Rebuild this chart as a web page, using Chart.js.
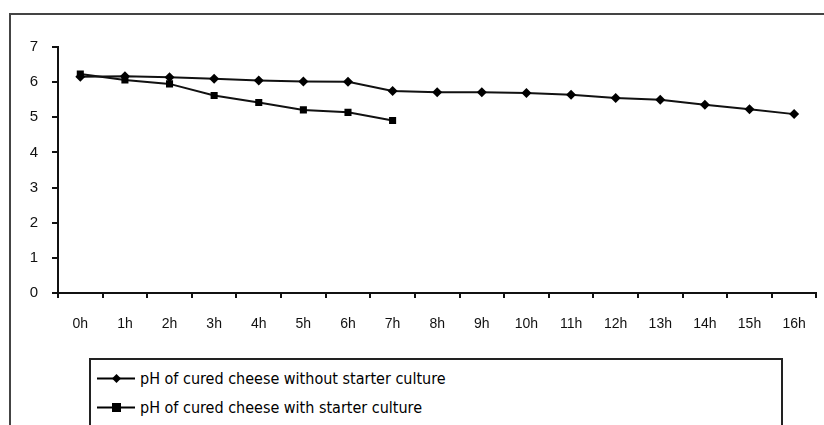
<!DOCTYPE html>
<html>
<head>
<meta charset="utf-8">
<script src="https://cdn.jsdelivr.net/npm/chart.js@4/dist/chart.umd.min.js"></script>
<style>
  html, body { margin: 0; padding: 0; background: #fff; }
  body { width: 824px; height: 425px; position: relative; overflow: hidden; }
  #marco {
    position: absolute; left: 9px; top: 13px; width: 900px; height: 500px;
    border: 2px solid #444; box-sizing: border-box;
  }
  #plot { position: absolute; left: 0; top: 0; }
  #leyenda {
    position: absolute; left: 89px; top: 358px; width: 694px; height: 100px;
    border: 2px solid #222; box-sizing: border-box; background: #fff;
    font-family: "DejaVu Sans", sans-serif; font-stretch: condensed;
    font-size: 16px; color: #000;
  }
  .fila { position: absolute; left: 6px; height: 22px; display: flex; align-items: center; white-space: nowrap; }
  .fila svg { margin-right: 5px; }
</style>
</head>
<body>
<div id="marco"></div>
<canvas id="plot" width="824" height="425"></canvas>
<div id="leyenda"></div>
<script>
// Horas de muestreo
let horas = ["0h", "1h", "2h", "3h", "4h", "5h", "6h", "7h", "8h", "9h", "10h", "11h", "12h", "13h", "14h", "15h", "16h"];

// pH sin cultivo iniciador
let phSinCultivo = [6.15, 6.17, 6.14, 6.10, 6.05, 6.02, 6.01, 5.75, 5.71, 5.71, 5.69, 5.64, 5.55, 5.50, 5.36, 5.23, 5.09];

// pH con cultivo iniciador (solo hasta 7h)
let phConCultivo = [6.23, 6.06, 5.95, 5.62, 5.42, 5.21, 5.14, 4.91];

let etiquetas = [
  "pH of cured cheese without starter culture",
  "pH of cured cheese with starter culture",
];

let yTicks = [0, 1, 2, 3, 4, 5, 6, 7];

let fuente = "'Liberation Sans', Arial, sans-serif";

let plotRef = document.getElementById("plot");

let config = {
  type: "line",
  data: {
    labels: horas,
    datasets: [
      {
        label: etiquetas[0],
        data: phSinCultivo,
        borderColor: "#111",
        backgroundColor: "#000",
        borderWidth: 2,
        pointStyle: "rectRot",
        pointRadius: 5,
        pointBorderWidth: 0,
        tension: 0,
      },
      {
        label: etiquetas[1],
        data: phConCultivo,
        borderColor: "#111",
        backgroundColor: "#000",
        borderWidth: 2,
        pointStyle: "rect",
        pointRadius: 5,
        pointBorderWidth: 0,
        tension: 0,
      },
    ],
  },
  options: {
    responsive: false,
    animation: false,
    layout: { padding: { left: 0, right: 7, top: 47, bottom: 0 } },
    plugins: { legend: { display: false }, tooltip: { enabled: false } },
    scales: {
      x: {
        offset: true,
        grid: { display: true, drawOnChartArea: false, offset: true, color: "#111", tickLength: 5, lineWidth: 2 },
        border: { display: true, color: "#111", width: 2 },
        ticks: {
          color: "#111",
          font: { family: fuente, size: 14 },
          padding: 18,
          maxRotation: 0,
          autoSkip: false,
        },
        afterFit: (scale) => { scale.height = 132; },
      },
      y: {
        min: 0,
        max: 7,
        afterBuildTicks: (scale) => { scale.ticks = yTicks.map((v) => ({ value: v })); },
        grid: { display: true, drawOnChartArea: false, color: "#111", tickLength: 6, lineWidth: 2 },
        border: { display: true, color: "#111", width: 2 },
        ticks: {
          color: "#111",
          font: { family: fuente, size: 15 },
          padding: 14,
        },
        afterFit: (scale) => { scale.width = 58; },
      },
    },
  },
};

let chart1 = new Chart(plotRef, config);

// Leyenda HTML con los mismos estilos de los datasets
let leyendaRef = document.getElementById("leyenda");
config.data.datasets.forEach((ds, i) => {
  let marca = ds.pointStyle === "rect"
    ? '<rect x="15" y="5" width="9" height="9" fill="#000"/>'
    : '<polygon points="19.5,5 24,9.5 19.5,14 15,9.5" fill="#000"/>';
  let fila = document.createElement("div");
  fila.className = "fila";
  fila.style.top = (7 + i * 29) + "px";
  fila.innerHTML = `<svg width="38" height="19"><line x1="0" y1="9.5" x2="38" y2="9.5" stroke="#000" stroke-width="2"/>${marca}</svg><span>${ds.label}</span>`;
  leyendaRef.appendChild(fila);
});
</script>
</body>
</html>
